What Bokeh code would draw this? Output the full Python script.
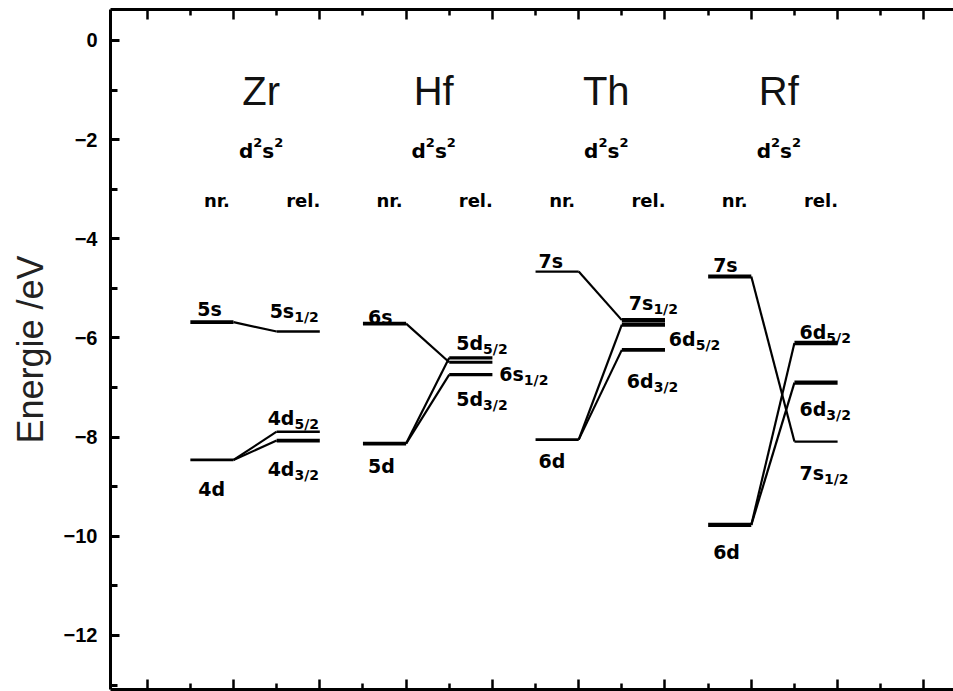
from bokeh.plotting import figure
from bokeh.models import Range1d, LinearAxis, FixedTicker, ColumnDataSource
from bokeh.core.properties import value
from bokeh.embed import file_html
from bokeh.resources import INLINE

# ---- orbital energies (eV), non-relativistic vs. relativistic ----
elements = ["Zr", "Hf", "Th", "Rf"]
config_parts = ["d", "2", "s", "2"]          # d^2 s^2, exponents drawn raised
column_titles = ["nr.", "rel."]

nr_orbitals = [["5s", "4d"], ["6s", "5d"], ["7s", "6d"], ["7s", "6d"]]
nr_energies = [[-5.68, -8.46], [-5.71, -8.13], [-4.66, -8.05], [-4.76, -9.77]]

rel_orbitals = [["5s", "4d", "4d"], ["5d", "6s", "5d"], ["7s", "6d", "6d"], ["6d", "6d", "7s"]]
rel_j = [["1/2", "5/2", "3/2"], ["5/2", "1/2", "3/2"], ["1/2", "5/2", "3/2"], ["5/2", "3/2", "1/2"]]
rel_energies = [[-5.87, -7.89, -8.07], [-6.40, -6.49, -6.74],
                [-5.64, -5.73, -6.24], [-6.10, -6.90, -8.09]]

y_ticks = [0, -2, -4, -6, -8, -10, -12]
y_tick_labels = ["0", "−2", "−4", "−6", "−8", "−10", "−12"]
y_label = "Energie /eV"

# ---- drawing style ----
nr_widths = [[3.8, 2.8], [3.6, 3.6], [2.3, 2.6], [4.2, 4.2]]
rel_widths = [[2.4, 2.6, 3.6], [3.2, 3.2, 3.4], [4.4, 4.4, 3.8], [4.4, 4.4, 2.3]]
# label offsets in pixels from the left end of a level (dx right, dy down to baseline)
nr_label_off = [[(7, -13), (8, 29)], [(5, -7), (5, 22)], [(3, -11), (3, 21)], [(5, -11), (5, 27)]]
rel_label_off = [[(-7, -21), (-9, -14), (-9, 28)],
                 [(7, -15), (50, 12), (7, 24)],
                 [(7, -17), (47, 14), (5, 31)],
                 [(5, -11), (5, 26), (5, 31)]]

LBL_FONT = "DejaVu Sans"
LBL_SIZE = 19
SUB_SIZE = 14
SUB_DROP = 6
# DejaVu Sans Bold advance widths (em)
ADV = {"d": 0.716, "s": 0.595, "/": 0.365, "n": 0.712, "r": 0.493,
       "e": 0.678, "l": 0.343, ".": 0.380}
for ch in "0123456789":
    ADV[ch] = 0.696


def text_width(t, size):
    return sum(ADV.get(c, 0.6) for c in t) * size


p = figure(width=953, height=691, output_backend="svg", toolbar_location=None,
           x_range=Range1d(0.1495, 19.686), y_range=Range1d(-13.09, 0.625),
           min_border_left=110, min_border_right=0, min_border_top=9, min_border_bottom=2,
           x_axis_location=None, y_axis_location=None)
p.grid.grid_line_color = None
p.outline_line_color = None
p.background_fill_color = "white"
p.border_fill_color = "white"

# ---- axes ----
yax = LinearAxis(ticker=FixedTicker(ticks=y_ticks, minor_ticks=[-1, -3, -5, -7, -9, -11, -13]),
                 major_label_overrides={t: l for t, l in zip(y_ticks, y_tick_labels)},
                 axis_label=y_label)
yax.axis_line_width = 3
yax.major_tick_in = 9
yax.major_tick_out = 0
yax.minor_tick_in = 7
yax.minor_tick_out = 0
yax.major_tick_line_width = 3
yax.minor_tick_line_width = 3
yax.major_label_standoff = 13
yax.major_label_text_font = "Liberation Sans"
yax.major_label_text_font_size = "20px"
yax.major_label_text_font_style = "bold"
yax.major_label_text_color = "black"
yax.axis_label_text_font = "Liberation Sans"
yax.axis_label_text_font_size = "36px"
yax.axis_label_text_font_style = "normal"
yax.axis_label_text_color = "#222222"
yax.axis_label_standoff = 10
p.add_layout(yax, "left")

for loc in ("above", "below"):
    ax = LinearAxis(ticker=FixedTicker(ticks=list(range(1, 20, 2)), minor_ticks=list(range(2, 20, 2))))
    ax.axis_line_width = 3
    ax.major_tick_in = 10
    ax.major_tick_out = 0
    ax.minor_tick_in = 6
    ax.minor_tick_out = 0
    ax.major_tick_line_width = 2.5
    ax.minor_tick_line_width = 2.5
    ax.major_label_text_font_size = "0px"
    ax.major_label_text_color = None
    ax.major_label_standoff = 0
    ax.axis_label_standoff = 0
    p.add_layout(ax, loc)

# ---- levels, connectors, labels ----
lv = dict(x0=[], x1=[], y=[], w=[])
cn = dict(x0=[], y0=[], x1=[], y1=[])
base = dict(x=[], y=[], text=[], dx=[], dy=[])
sub = dict(x=[], y=[], text=[], dx=[], dy=[])

for i, el in enumerate(elements):
    nr_x0, nr_x1 = 2 + 4 * i, 3 + 4 * i
    rel_x0, rel_x1 = 4 + 4 * i, 5 + 4 * i
    for k, (orb, e) in enumerate(zip(nr_orbitals[i], nr_energies[i])):
        lv["x0"].append(nr_x0); lv["x1"].append(nr_x1); lv["y"].append(e)
        lv["w"].append(nr_widths[i][k])
        dx, dy = nr_label_off[i][k]
        base["x"].append(nr_x0); base["y"].append(e); base["text"].append(orb)
        base["dx"].append(dx); base["dy"].append(dy)
        for orb2, e2 in zip(rel_orbitals[i], rel_energies[i]):
            if orb2 == orb:
                cn["x0"].append(nr_x1); cn["y0"].append(e)
                cn["x1"].append(rel_x0); cn["y1"].append(e2)
    for k, (orb, j, e) in enumerate(zip(rel_orbitals[i], rel_j[i], rel_energies[i])):
        lv["x0"].append(rel_x0); lv["x1"].append(rel_x1); lv["y"].append(e)
        lv["w"].append(rel_widths[i][k])
        dx, dy = rel_label_off[i][k]
        base["x"].append(rel_x0); base["y"].append(e); base["text"].append(orb)
        base["dx"].append(dx); base["dy"].append(dy)
        sub["x"].append(rel_x0); sub["y"].append(e); sub["text"].append(j)
        sub["dx"].append(dx + text_width(orb, LBL_SIZE)); sub["dy"].append(dy + SUB_DROP)

p.segment(x0="x0", y0="y0", x1="x1", y1="y1", source=ColumnDataSource(cn),
          line_color="black", line_width=2.2)
p.segment(x0="x0", y0="y", x1="x1", y1="y", source=ColumnDataSource(lv),
          line_color="black", line_width="w")

p.text(x="x", y="y", text="text", x_offset="dx", y_offset="dy", source=ColumnDataSource(base),
       text_font=value(LBL_FONT), text_font_style="bold", text_font_size=f"{LBL_SIZE}px",
       text_align="left", text_baseline="alphabetic", text_color="black")
p.text(x="x", y="y", text="text", x_offset="dx", y_offset="dy", source=ColumnDataSource(sub),
       text_font=value(LBL_FONT), text_font_style="bold", text_font_size=f"{SUB_SIZE}px",
       text_align="left", text_baseline="alphabetic", text_color="black")

# ---- column headers ----
centers = [3.5 + 4 * i for i in range(len(elements))]
p.text(x=centers, y=[-1.01] * len(elements), text=elements, x_offset=6,
       text_font=value("Liberation Sans"), text_font_size="40px",
       text_align="center", text_baseline="middle", text_color="#111111")

# electron configuration d^2 s^2
sizes = [20, 13, 20, 13]
raise_px = [0, -8, 0, -8]
total = sum(text_width(t, s) for t, s in zip(config_parts, sizes))
cfg = dict(x=[], y=[], text=[], dx=[], dy=[], size=[])
for c in centers:
    off = -total / 2 + 6
    for t, s, r in zip(config_parts, sizes, raise_px):
        cfg["x"].append(c); cfg["y"].append(-2.22); cfg["text"].append(t)
        cfg["dx"].append(off); cfg["dy"].append(r); cfg["size"].append(f"{s}px")
        off += text_width(t, s)
p.text(x="x", y="y", text="text", x_offset="dx", y_offset="dy", text_font_size="size",
       source=ColumnDataSource(cfg), text_font=value(LBL_FONT), text_font_style="bold",
       text_align="left", text_baseline="alphabetic", text_color="black")

tx, tt = [], []
for i in range(len(elements)):
    for k, title in enumerate(column_titles):
        tx.append(2.5 + 4 * i + 2 * k)
        tt.append(title)
p.text(x=tx, y=[-3.23] * len(tx), text=tt, x_offset=5,
       text_font=value(LBL_FONT), text_font_style="bold", text_font_size="18px",
       text_align="center", text_baseline="alphabetic", text_color="black")

open("out.html", "w").write(file_html(p, INLINE))
